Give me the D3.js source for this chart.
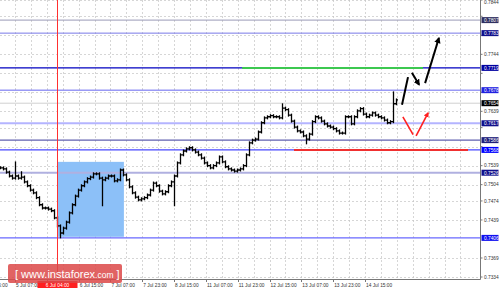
<!DOCTYPE html>
<meta charset="utf-8">
<style>
body { margin: 0; background: #fff; }
svg { display: block; font-family: "Liberation Sans", Arial, sans-serif; }
.grid line { stroke: #c4c4c4; stroke-width: 0.7px; stroke-dasharray: 2,2; }
.bars line { stroke: #000; stroke-width: 1.3px; }
.frame line { stroke: #777; stroke-width: 1px; }
.price-ticks text, .time-ticks text { fill: #333; font-size: 4.8px; }
.price-ticks line, .time-ticks line { stroke: #777; }
.level-labels text { fill: #fff; font-size: 4.8px; }
.watermark text { fill: #fff; }
</style>

<svg id="chart" width="500" height="291"></svg>

<script src="https://d3js.org/d3.v7.min.js"></script>
<script>
    // closes, one bar every 3 px of the original picture
    var closes = [
        0.7535, 0.7533, 0.7527, 0.7520, 0.7516, 0.7520, 0.7516, 0.7518, 0.7509, 0.7502,
        0.7494, 0.7489, 0.7480, 0.7467, 0.7461, 0.7461, 0.7459, 0.7456, 0.7443, 0.7428,
        0.7415, 0.7424, 0.7435, 0.7452, 0.7467, 0.7483, 0.7494, 0.7502, 0.7509, 0.7515,
        0.7518, 0.7524, 0.7524, 0.7516, 0.7513, 0.7516, 0.7520, 0.7520, 0.7511, 0.7513,
        0.7531, 0.7522, 0.7513, 0.7500, 0.7489, 0.7481, 0.7476, 0.7478, 0.7480, 0.7485,
        0.7494, 0.7507, 0.7502, 0.7492, 0.7487, 0.7491, 0.7502, 0.7509, 0.7520, 0.7544,
        0.7559, 0.7566, 0.7570, 0.7572, 0.7568, 0.7564, 0.7559, 0.7553, 0.7544, 0.7539,
        0.7535, 0.7539, 0.7544, 0.7555, 0.7546, 0.7537, 0.7533, 0.7531, 0.7529, 0.7531,
        0.7533, 0.7539, 0.7559, 0.7581, 0.7586, 0.7588, 0.7601, 0.7618, 0.7627, 0.7629,
        0.7631, 0.7629, 0.7629, 0.7627, 0.7645, 0.7642, 0.7632, 0.7621, 0.7610, 0.7603,
        0.7601, 0.7594, 0.7588, 0.7597, 0.7620, 0.7629, 0.7627, 0.7621, 0.7616, 0.7612,
        0.7610, 0.7607, 0.7603, 0.7599, 0.7599, 0.7629, 0.7629, 0.7616, 0.7629, 0.7640,
        0.7644, 0.7634, 0.7629, 0.7632, 0.7636, 0.7632, 0.7629, 0.7627, 0.7623, 0.7618,
        0.7620, 0.7653, 0.7660
    ];
    // long wicks: [bar index, extreme price]
    var spikes = [[5, 0.7544], [7, 0.7526], [20, 0.7408], [34, 0.7467],
                  [58, 0.7467], [94, 0.7651], [102, 0.7581], [131, 0.7673]];

    var priceTicks = [0.7334, 0.7369, 0.7439, 0.7474, 0.7504, 0.7539, 0.7574, 0.7609,
                      0.7639, 0.7674, 0.7709, 0.7744, 0.7779, 0.7814, 0.7844];

    var levels      = [0.7807, 0.7783, 0.7719, 0.7678, 0.7617, 0.7586, 0.7568, 0.7526, 0.7406];
    var levelColors = ["#9a9ab8", "#7878e8", "#0000c0", "#6464f0", "#b4b4ff", "#6060b0", "#4848ff", "#b0b0e0", "#6868ff"];
    var levelWidths = [1, 1, 1.2, 1, 2, 1.2, 1.2, 2, 1.2];
    var labelColors = ["#303060", "#10108a", "#0000a0", "#2020e0", "#10108a", "#20207a", "#0000ff", "#10108a", "#1010f0"];
    var bidPrice = 0.7654;

    var timeLabels = ["4 Jul 15:00", "5 Jul 07:00", "5 Jul 23:00", "6 Jul 15:00", "7 Jul 07:00",
                      "7 Jul 23:00", "8 Jul 15:00", "11 Jul 07:00", "11 Jul 23:00",
                      "12 Jul 15:00", "13 Jul 07:00", "13 Jul 23:00", "14 Jul 15:00"];
    var markerLabel = "6 Jul 04:00";
    var markerBar = 19;

    // blue box: bar from / to, price top / bottom
    var zoneBars = [19, 41.3], zonePrices = [0.7546, 0.7408];
    // green segment on 0.7719, red segment on 0.7568 (bar from / to)
    var greenBars = [80.7, 141], redBars = [98, 156];

    // forecast arrows [bar, price] -> [bar, price]
    var blackLines  = [[[134, 0.7651], [136, 0.7702]]];
    var blackArrows = [[[137.3, 0.7710], [139.7, 0.7688]], [[141.7, 0.7691], [146.3, 0.7774]]];
    var redLines    = [[[134.3, 0.7629], [137.7, 0.7596]]];
    var redArrows   = [[[138.7, 0.7594], [142.7, 0.7636]]];

    var svg = d3.select("#chart"),
        plotW = 480,
        plotH = 279;

    var x = d3.scaleLinear()
              .domain([0, closes.length - 1])
              .range([0, 396]);
    var y = d3.scaleLinear()
              .domain([0.7334, 0.7844])
              .range([277, 0]);
    var xt = d3.scaleLinear()
               .domain([1, 12])
               .range([15, 365]);

    var defs = svg.append("defs");
    [["head-black", "#000"], ["head-red", "#ff2020"]].forEach(function(m) {
        defs.append("marker")
            .attr("id", m[0])
            .attr("viewBox", "0 0 10 10")
            .attr("refX", 8).attr("refY", 5)
            .attr("markerWidth", 3.2).attr("markerHeight", 3.2)
            .attr("orient", "auto")
            .append("path")
            .attr("d", "M0,0L10,5L0,10Z")
            .attr("fill", m[1]);
    });

    // grid
    var vgrid = d3.range(0, 31).map(function(k) { return xt(k / 2); })
                  .filter(function(v) { return v >= 0 && v < plotW - 2; });
    var grid = svg.append("g").attr("class", "grid");
    grid.selectAll("line.h")
        .data(priceTicks)
        .enter().append("line")
        .attr("class", "h")
        .attr("x1", 0).attr("x2", plotW)
        .attr("y1", function(d) { return Math.round(y(d)) + 0.5; })
        .attr("y2", function(d) { return Math.round(y(d)) + 0.5; });
    grid.selectAll("line.v")
        .data(vgrid)
        .enter().append("line")
        .attr("class", "v")
        .attr("y1", 0).attr("y2", plotH)
        .attr("x1", function(d) { return Math.round(d) + 0.5; })
        .attr("x2", function(d) { return Math.round(d) + 0.5; });

    // blue zone
    svg.append("rect")
       .attr("x", x(zoneBars[0]))
       .attr("y", y(zonePrices[0]))
       .attr("width", x(zoneBars[1]) - x(zoneBars[0]))
       .attr("height", y(zonePrices[1]) - y(zonePrices[0]))
       .attr("fill", "#8cc0f8");

    // bid line
    svg.append("line")
       .attr("x1", 0).attr("x2", plotW)
       .attr("y1", y(bidPrice)).attr("y2", y(bidPrice))
       .attr("stroke", "#d0d0d0").attr("stroke-width", 1);

    // levels
    svg.append("g")
       .selectAll("line")
       .data(levels)
       .enter().append("line")
       .attr("x1", 0).attr("x2", plotW)
       .attr("y1", function(d) { return y(d); })
       .attr("y2", function(d) { return y(d); })
       .attr("stroke", function(d, i) { return levelColors[i]; })
       .attr("stroke-width", function(d, i) { return levelWidths[i]; });

    svg.append("line")
       .attr("x1", x(greenBars[0])).attr("x2", x(greenBars[1]))
       .attr("y1", y(0.7719)).attr("y2", y(0.7719))
       .attr("stroke", "#3cc850").attr("stroke-width", 2);
    svg.append("line")
       .attr("x1", x(redBars[0])).attr("x2", x(redBars[1]))
       .attr("y1", y(0.7568)).attr("y2", y(0.7568))
       .attr("stroke", "#f03030").attr("stroke-width", 2);

    // bars
    var bars = svg.append("g").attr("class", "bars");
    closes.forEach(function(c, i) {
        var o = i > 0 ? closes[i - 1] : c,
            hi = Math.max(o, c),
            lo = Math.min(o, c);
        spikes.forEach(function(s) {
            if (s[0] === i) { hi = Math.max(hi, s[1]); lo = Math.min(lo, s[1]); }
        });
        var cx = Math.round(x(i)) + 0.5;
        bars.append("line")
            .attr("x1", cx).attr("x2", cx)
            .attr("y1", y(hi) - 1.5).attr("y2", y(lo) + 1.5);
        bars.append("line")
            .attr("x1", cx - 1.5).attr("x2", cx)
            .attr("y1", y(o)).attr("y2", y(o));
        bars.append("line")
            .attr("x1", cx).attr("x2", cx + 1.5)
            .attr("y1", y(c)).attr("y2", y(c));
    });

    // red time marker
    var mx = Math.round(x(markerBar)) + 0.5;
    svg.append("line")
       .attr("x1", mx).attr("x2", mx)
       .attr("y1", 0).attr("y2", plotH)
       .attr("stroke", "#ff3030").attr("stroke-width", 1);

    // forecast arrows
    var line = d3.line()
                 .x(function(d) { return x(d[0]); })
                 .y(function(d) { return y(d[1]); });
    var arrows = svg.append("g");
    function drawArrows(data, color, width, head) {
        arrows.selectAll(null)
              .data(data)
              .enter().append("path")
              .attr("d", line)
              .attr("fill", "none")
              .attr("stroke", color)
              .attr("stroke-width", width)
              .attr("marker-end", head ? "url(#" + head + ")" : null);
    }
    drawArrows(blackLines, "#000", 2, null);
    drawArrows(blackArrows, "#000", 2, "head-black");
    drawArrows(redLines, "#ff2020", 1.6, null);
    drawArrows(redArrows, "#ff2020", 1.6, "head-red");

    // frame
    var frame = svg.append("g").attr("class", "frame");
    frame.append("line").attr("x1", plotW + 0.5).attr("x2", plotW + 0.5).attr("y1", 0).attr("y2", plotH + 0.5);
    frame.append("line").attr("x1", 0).attr("x2", plotW + 0.5).attr("y1", plotH + 0.5).attr("y2", plotH + 0.5);

    // price axis; labels hidden behind a level box are not written
    var allLabels = levels.concat([bidPrice]),
        allColors = labelColors.concat(["#000"]);
    var shownTicks = priceTicks.filter(function(t) {
        return allLabels.every(function(l) { return Math.abs(y(l) - y(t)) > 6; });
    });
    var pt = svg.append("g").attr("class", "price-ticks");
    pt.selectAll("text")
      .data(shownTicks)
      .enter().append("text")
      .attr("x", 484)
      .attr("y", function(d) { return Math.max(y(d) + 1.8, 4); })
      .text(function(d) { return d.toFixed(4); });
    pt.selectAll("line")
      .data(priceTicks)
      .enter().append("line")
      .attr("x1", plotW).attr("x2", plotW + 2.5)
      .attr("y1", function(d) { return y(d); })
      .attr("y2", function(d) { return y(d); });

    var ll = svg.append("g").attr("class", "level-labels");
    ll.selectAll("rect")
      .data(allLabels)
      .enter().append("rect")
      .attr("x", plotW + 1.5)
      .attr("y", function(d) { return y(d) - 3; })
      .attr("width", 17).attr("height", 6)
      .attr("fill", function(d, i) { return allColors[i]; });
    ll.selectAll("text")
      .data(allLabels)
      .enter().append("text")
      .attr("x", 484)
      .attr("y", function(d) { return y(d) + 1.8; })
      .text(function(d) { return d.toFixed(4); });

    // time axis; the label under the red marker box is not written
    var tt = svg.append("g").attr("class", "time-ticks");
    tt.selectAll("text")
      .data(timeLabels)
      .enter().append("text")
      .filter(function(d, i) { return Math.abs(xt(i) - mx) > 20; })
      .attr("x", function(d, i) { return xt(timeLabels.indexOf(d)) + 1; })
      .attr("y", 287)
      .text(function(d) { return d; });
    tt.selectAll("line")
      .data(timeLabels)
      .enter().append("line")
      .attr("x1", function(d, i) { return Math.round(xt(i)) + 0.5; })
      .attr("x2", function(d, i) { return Math.round(xt(i)) + 0.5; })
      .attr("y1", plotH).attr("y2", plotH + 3);

    tt.append("rect")
      .attr("x", mx - 20).attr("y", plotH + 2)
      .attr("width", 40).attr("height", 7)
      .attr("fill", "#ff2020");
    tt.append("text")
      .attr("x", mx).attr("y", 287)
      .attr("text-anchor", "middle")
      .style("fill", "#fff")
      .text(markerLabel);

    // watermark
    var wm = svg.append("g").attr("class", "watermark");
    wm.append("rect")
      .attr("x", 8).attr("y", 264)
      .attr("width", 114).attr("height", 19)
      .attr("rx", 2)
      .attr("fill", "#dc4848")
      .attr("fill-opacity", 0.85);
    var wt = wm.append("text")
               .attr("x", 15).attr("y", 278)
               .style("font-size", "11px");
    wt.append("tspan").text("[ www.instaforex");
    wt.append("tspan").style("font-size", "8.5px").text(".com");
    wt.append("tspan").text(" ]");
</script>
